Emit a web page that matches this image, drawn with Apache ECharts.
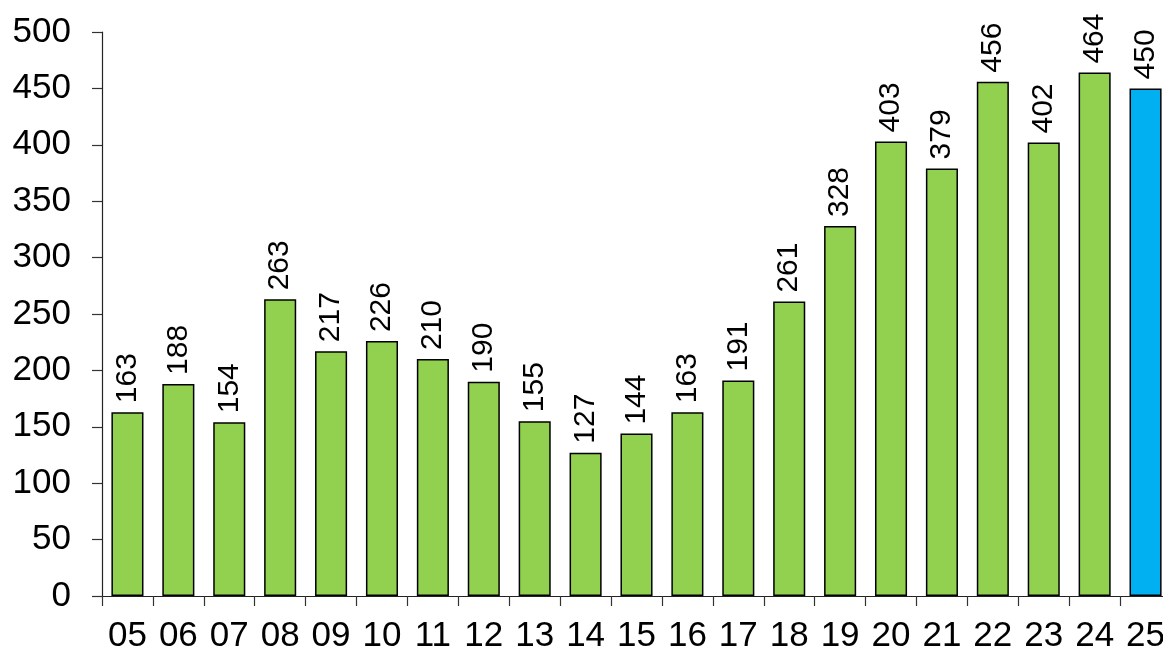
<!DOCTYPE html>
<html>
<head>
<meta charset="utf-8">
<script src="https://cdn.jsdelivr.net/npm/echarts@6/dist/echarts.min.js"></script>
<style>
  html, body { margin: 0; padding: 0; background: #fff; overflow: hidden; }
  /* the plot runs slightly past the right edge of the window, as in the original */
  #chart { width: 1171px; height: 654px; }
</style>
</head>
<body>
<div id="chart"></div>
<script>
// years (two-digit) and counts
var categories = ['05','06','07','08','09','10','11','12','13','14','15','16','17','18','19','20','21','22','23','24','25'];
var values = [163, 188, 154, 263, 217, 226, 210, 190, 155, 127, 144, 163, 191, 261, 328, 403, 379, 456, 402, 464, 450];
var highlightIndex = 20; // last year is drawn in blue

var green = '#92D050';
var blue = '#00B0F0';

var chart = echarts.init(document.getElementById('chart'));

var barData = values.map(function (v, i) {
  return {
    value: v,
    itemStyle: { color: i === highlightIndex ? blue : green }
  };
});

var option = {
  animation: false,
  textStyle: { fontFamily: 'Liberation Sans, Arial, sans-serif' },
  grid: { left: 102, top: 32, right: 0, bottom: 56 },
  xAxis: {
    type: 'category',
    data: categories,
    axisLine: { show: true, lineStyle: { color: '#222', width: 1.2 } },
    axisTick: { show: true, interval: 0, length: 10, lineStyle: { color: '#333', width: 1.2 } },
    axisLabel: { interval: 0, color: '#000', fontSize: 35, margin: 23 }
  },
  yAxis: {
    type: 'value',
    min: 0,
    max: 500,
    interval: 50,
    splitLine: { show: false },
    axisLine: { show: true, lineStyle: { color: '#222', width: 1.2 } },
    axisTick: { show: true, length: 10, lineStyle: { color: '#333', width: 1.2 } },
    axisLabel: { color: '#000', fontSize: 35, margin: 31 }
  },
  series: [{
    type: 'bar',
    data: barData,
    barCategoryGap: '37%',
    itemStyle: { borderColor: '#000', borderWidth: 1.5 },
    label: {
      show: true,
      position: 'top',
      rotate: 90,
      align: 'left',
      verticalAlign: 'middle',
      distance: 9,
      fontSize: 30,
      color: '#000'
    }
  }]
};

chart.setOption(option);
</script>
</body>
</html>
